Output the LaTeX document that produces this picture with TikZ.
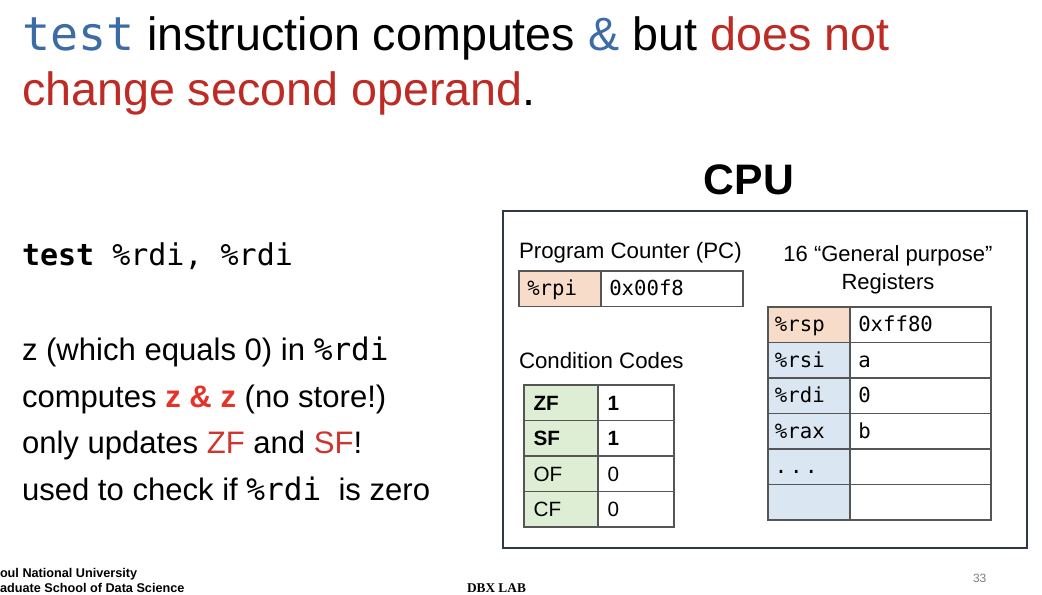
\documentclass[tikz,border=0pt]{standalone}
\usepackage{fontspec}
\setmainfont{Liberation Sans}
\setsansfont{Liberation Sans}
\setmonofont{DejaVu Sans Mono}
\newfontfamily\labserif{Liberation Serif}
\definecolor{tblue}{HTML}{3D6BA6}
\definecolor{tred}{HTML}{BE2B25}
\definecolor{bred}{HTML}{E6332A}
\definecolor{fred}{HTML}{D0342E}
\definecolor{peach}{HTML}{F7DCC9}
\definecolor{lblue}{HTML}{DBE6F3}
\definecolor{lgreen}{HTML}{DDEED4}
\definecolor{boxline}{HTML}{2E3A48}
\definecolor{cell}{HTML}{555555}
\tikzset{
  txt/.style={anchor=base west, inner sep=0pt, outer sep=0pt},
  cellbox/.style={draw=cell, line width=1.2pt, minimum height=26.6pt, inner sep=0pt, anchor=north west, outer sep=0pt},
  celltxt/.style={anchor=base west, inner sep=0pt},
}
\newcommand{\pxf}[1]{\fontsize{#1}{#1}\selectfont}
\newcommand{\mydots}{.\kern2pt.\kern2pt.}
\begin{document}
\begin{tikzpicture}[x=0.75pt,y=-0.75pt]
\useasboundingbox (0,0) rectangle (1042,594);
\fill[white] (0,0) rectangle (1042,594);
% title
\node[txt] (t1) at (22,50) {\pxf{35pt}{\ttfamily\color{tblue}test} instruction computes {\color{tblue}\&} but {\color{tred}does not}};
\node[txt] (t2) at (22,105) {\pxf{35pt}{\color{tred}change second operand}.};
% left text
\node[txt] (l0) at (22,265) {\pxf{22.5pt}\ttfamily\textbf{test} \%rdi, \%rdi};
\node[txt] (l1) at (22,360) {\pxf{23.3pt}z (which equals 0) in {\ttfamily\%rdi}};
\node[txt] (l2) at (22,407) {\pxf{23.3pt}computes {\color{bred}\textbf{z \& z}} (no store!)};
\node[txt] (l3) at (22,453) {\pxf{23.3pt}only updates {\color{fred}ZF} and {\color{fred}SF}!};
\node[txt] (l4) at (22,500) {\pxf{23.3pt}used to check if {\ttfamily\%rdi} \ is zero};
% CPU
\node[anchor=base, inner sep=0] (cpu) at (749,194) {\pxf{32pt}\textbf{CPU}};
\draw[boxline, line width=1.5pt] (503,211) rectangle (1027,548);
\node[txt] (pclab) at (519,258) {\pxf{16.7pt}Program Counter (PC)};
\node[cellbox, fill=peach, minimum width=61.5pt] (pcn) at (519,271) {};
\node[cellbox, minimum width=106.5pt] (pcv) at (601,271) {};
\node[celltxt] at ([xshift=6pt,yshift=-18.5pt]pcn.north west) {\pxf{15.5pt}\ttfamily\%rpi};
\node[celltxt] at ([xshift=6pt,yshift=-18.5pt]pcv.north west) {\pxf{15.5pt}\ttfamily 0x00f8};
\node[anchor=base, inner sep=0] (rlab1) at (888,261) {\pxf{16.5pt}16 “General purpose”};
\node[anchor=base, inner sep=0] (rlab2) at (888,289) {\pxf{16.5pt}Registers};
\node[txt] (cclab) at (519,368) {\pxf{16.7pt}Condition Codes};
% condition codes
\foreach \n/\v/\y/\b in {ZF/1/385/1,SF/1/420.5/1,OF/0/456/0,CF/0/491.5/0}{
  \node[cellbox, fill=lgreen, minimum width=55.5pt] (cc\n) at (524,\y) {};
  \node[cellbox, minimum width=57pt] (cv\n) at (598,\y) {};
  \ifnum\b=1
    \node[celltxt] at ([xshift=7pt,yshift=-19pt]cc\n.north west) {\pxf{15.5pt}\sffamily\textbf{\n}};
    \node[celltxt] at ([xshift=7pt,yshift=-19pt]cv\n.north west) {\pxf{15.5pt}\sffamily\textbf{\v}};
  \else
    \node[celltxt] at ([xshift=7pt,yshift=-19pt]cc\n.north west) {\pxf{15.5pt}\sffamily\n};
    \node[celltxt] at ([xshift=7pt,yshift=-19pt]cv\n.north west) {\pxf{15.5pt}\sffamily\v};
  \fi
}
% registers
\foreach \i/\n/\v/\y/\c in {1/\%rsp/0xff80/307/peach,2/\%rsi/a/342.5/lblue,3/\%rdi/0/378/lblue,4/\%rax/b/413.5/lblue,5/\mydots/{}/449/lblue,6/{}/{}/484.5/lblue}{
  \node[cellbox, fill=\c, minimum width=61.5pt] (rn\i) at (768,\y) {};
  \node[cellbox, minimum width=105.75pt] (rv\i) at (850,\y) {};
  \node[celltxt] at ([xshift=5pt,yshift=-18.5pt]rn\i.north west) {\pxf{15.5pt}\ttfamily\n};
  \node[celltxt] at ([xshift=6pt,yshift=-18.5pt]rv\i.north west) {\pxf{15.5pt}\ttfamily\v};
}
% footer
\node[txt] (f1) at (0,577) {\pxf{9.5pt}\textbf{oul National University}};
\node[txt] (f2) at (0,592) {\pxf{9.5pt}\textbf{aduate School of Data Science}};
\node[txt] (f3) at (467,592) {\pxf{10pt}\labserif\textbf{DBX LAB}};
\node[txt] (f4) at (973,582) {\pxf{9pt}\color{gray}33};
\end{tikzpicture}
\end{document}
